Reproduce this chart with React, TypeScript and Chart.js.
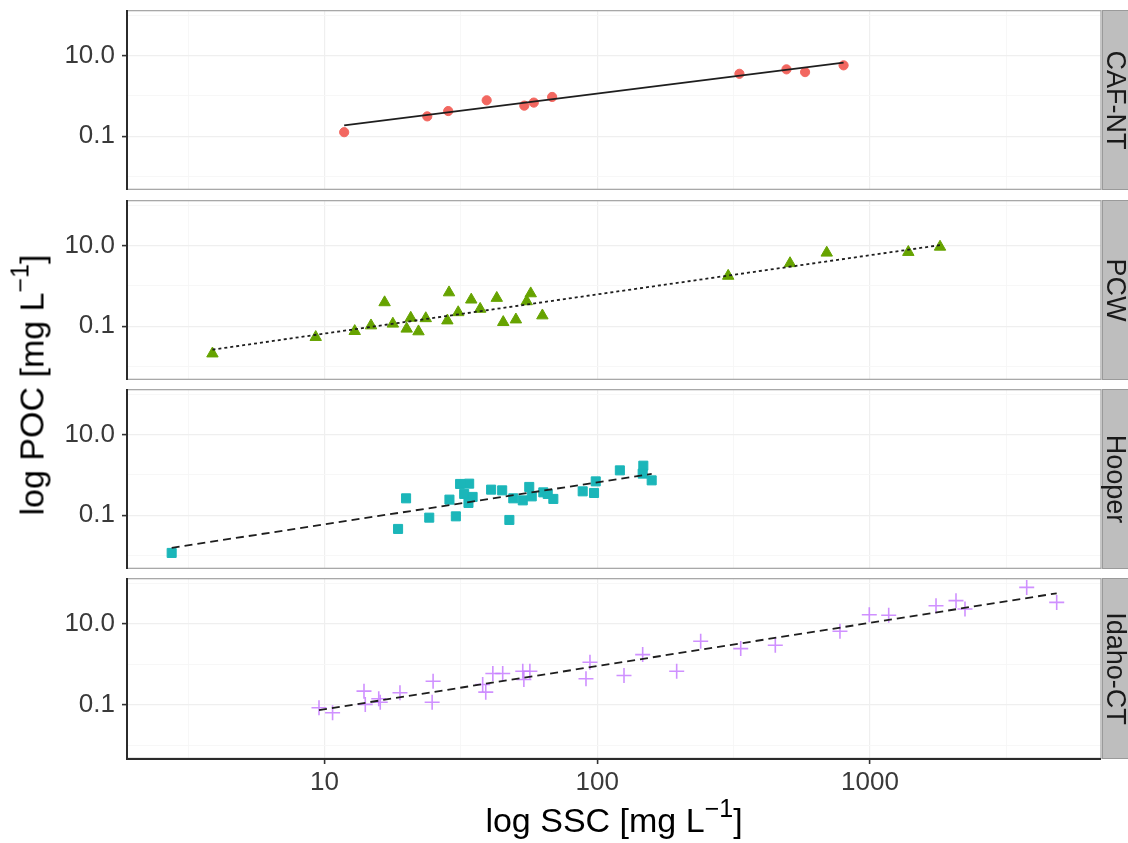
import React, { useEffect, useRef } from 'react';
import { Chart, registerables } from 'chart.js';

Chart.register(...registerables);

const FONT = '"Liberation Sans", Arial, Helvetica, sans-serif';

// ---------- data ----------
const facetNames = ['CAF-NT', 'PCW', 'Hooper', 'Idaho-CT'];

const cafSSC = [11.8, 23.8, 28.4, 39.3, 54.0, 58.5, 68.3, 332, 494, 578, 800];
const cafPOC = [0.126, 0.311, 0.422, 0.78, 0.575, 0.684, 0.944, 3.55, 4.57, 3.91, 5.75];
const cafFitSSC = [11.8, 800];
const cafFitPOC = [0.185, 6.7];

const pcwSSC = [3.88, 9.28, 12.9, 14.8, 16.6, 17.8, 20.0, 20.7, 22.1, 23.5, 28.2, 28.6, 30.9, 34.5, 37.2, 42.8, 45.2, 50.3, 55.1, 57.0, 62.9, 302, 509, 694, 1382, 1806];
const pcwPOC = [0.0209, 0.0536, 0.0753, 0.104, 0.39, 0.115, 0.0863, 0.161, 0.074, 0.157, 0.138, 0.687, 0.221, 0.455, 0.268, 0.501, 0.126, 0.146, 0.413, 0.65, 0.184, 1.77, 3.64, 6.65, 6.92, 9.34];
const pcwFitSSC = [3.88, 1806];
const pcwFitPOC = [0.0262, 10.3];

const hooperSSC = [2.75, 18.6, 19.9, 24.2, 28.7, 30.3, 31.4, 33.9, 32.5, 34.9, 33.7, 40.8, 44.8, 47.6, 49.2, 53.3, 56.3, 57.5, 63.4, 65.8, 69.0, 88.4, 97.3, 98.7, 121, 147.5, 146.7, 158.3];
const hooperPOC = [0.0116, 0.0457, 0.263, 0.0871, 0.244, 0.0939, 0.598, 0.608, 0.338, 0.285, 0.202, 0.432, 0.415, 0.0764, 0.263, 0.234, 0.504, 0.294, 0.37, 0.338, 0.254, 0.392, 0.357, 0.693, 1.3, 1.7, 1.08, 0.734];
const hooperFitSSC = [2.75, 158.3];
const hooperFitPOC = [0.0155, 1.06];

const idahoSSC = [9.54, 10.7, 13.95, 14.1, 15.8, 16.0, 18.9, 25.0, 24.8, 38.0, 39.0, 41.4, 45.0, 53.3, 56.6, 53.8, 90.9, 94.0, 125.3, 146.7, 195.5, 239.4, 335.7, 449.5, 776, 994, 1171, 1746, 2067, 2230, 3755, 4837];
const idahoPOC = [0.0853, 0.0643, 0.219, 0.103, 0.142, 0.117, 0.2, 0.386, 0.117, 0.32, 0.207, 0.597, 0.597, 0.68, 0.68, 0.425, 0.442, 1.13, 0.533, 1.75, 0.68, 3.73, 2.46, 2.97, 6.57, 16.9, 16.3, 28.2, 37.5, 23.4, 79.7, 34.0];
const idahoFitSSC = [9.54, 4837];
const idahoFitPOC = [0.0745, 57];

const xMajorTicks = [10, 100, 1000];
const xMajorLabels = ['10', '100', '1000'];
const xMinorTicks = [3.162, 31.62, 316.2, 3162];
const yMajorTicks = [0.1, 10];
const yMajorLabels = ['0.1', '10.0'];
const yMinorTicks = [0.01, 1, 100];

const X_MIN = 1.886;
const X_MAX = 7031;
const Y_MIN = 0.00463;
const Y_MAX = 136;

// ---------- styles ----------
const pointColors = ['#F26760', '#66A300', '#1BB6B9', 'rgba(199,124,255,0.85)'];
const pointStyles = ['circle', 'triangle', 'rect', 'cross'];
const pointRadii = [4.6, 6.6, 6.4, 7.5];
const pointBorderWidths = [1, 1, 1, 1.6];
const fitDashes: number[][] = [[], [3, 3], [8, 5], [8, 5]];

// ---------- layout ----------
const W = 1128;
const PANEL_LEFT = 127;
const RIGHT_PAD = 27;
const canvasTops = [10, 200, 389, 578];
const canvasHeights = [180, 180, 180, 265];
const bottomAxisHeight = 84;

const facets = [
  { name: facetNames[0], x: cafSSC, y: cafPOC, fx: cafFitSSC, fy: cafFitPOC },
  { name: facetNames[1], x: pcwSSC, y: pcwPOC, fx: pcwFitSSC, fy: pcwFitPOC },
  { name: facetNames[2], x: hooperSSC, y: hooperPOC, fx: hooperFitSSC, fy: hooperFitPOC },
  { name: facetNames[3], x: idahoSSC, y: idahoPOC, fx: idahoFitSSC, fy: idahoFitPOC },
];

const facetPlugin = {
  id: 'facet',
  afterDraw(chart: any, _args: any, opts: any) {
    const { ctx, chartArea: a } = chart;
    ctx.save();
    // panel border
    ctx.strokeStyle = '#A8A8A8';
    ctx.lineWidth = 1.3;
    ctx.strokeRect(a.left, a.top + 0.65, a.right - a.left, a.bottom - a.top - 1.3);
    // strip
    ctx.fillStyle = '#BEBEBE';
    ctx.fillRect(a.right + 1, a.top, chart.width - a.right, a.bottom - a.top);
    ctx.strokeStyle = '#9A9A9A';
    ctx.lineWidth = 1;
    ctx.strokeRect(a.right + 1.5, a.top + 0.5, chart.width, a.bottom - a.top - 1);
    // axis lines
    ctx.strokeStyle = '#2B2B2B';
    ctx.lineWidth = 2;
    ctx.beginPath();
    ctx.moveTo(a.left, a.top);
    ctx.lineTo(a.left, a.bottom + (opts.bottom ? 1 : 0));
    if (opts.bottom) {
      ctx.moveTo(a.left - 1, a.bottom);
      ctx.lineTo(a.right, a.bottom);
    }
    ctx.stroke();
    // strip text
    ctx.fillStyle = '#1A1A1A';
    ctx.font = '27px ' + FONT;
    ctx.textAlign = 'center';
    ctx.textBaseline = 'alphabetic';
    ctx.translate(a.right + 6, (a.top + a.bottom) / 2);
    ctx.rotate(Math.PI / 2);
    ctx.fillText(opts.label, 0, 0);
    ctx.restore();
  },
};

function makeConfig(i: number): any {
  const f = facets[i];
  const isBottom = i === facets.length - 1;
  const xTickVals = [...xMinorTicks, ...xMajorTicks].sort((a, b) => a - b);
  const yTickVals = [...yMinorTicks, ...yMajorTicks].sort((a, b) => a - b);
  const isXMajor = (v: number) => xMajorTicks.indexOf(v) >= 0;
  const isYMajor = (v: number) => yMajorTicks.indexOf(v) >= 0;
  return {
    type: 'scatter',
    data: {
      datasets: [
        {
          data: f.fx.map((x, k) => ({ x, y: f.fy[k] })),
          showLine: true,
          pointRadius: 0,
          borderColor: '#1E1E1E',
          borderWidth: 1.8,
          borderDash: fitDashes[i],
          fill: false,
        },
        {
          data: f.x.map((x, k) => ({ x, y: f.y[k] })),
          showLine: false,
          pointStyle: pointStyles[i],
          pointRadius: pointRadii[i],
          backgroundColor: pointColors[i],
          borderColor: pointColors[i],
          borderWidth: pointBorderWidths[i],
        },
      ],
    },
    options: {
      animation: false,
      responsive: false,
      events: [],
      layout: { autoPadding: false, padding: { left: 0, right: RIGHT_PAD, top: 0, bottom: 0 } },
      plugins: {
        legend: { display: false },
        tooltip: { enabled: false },
        facet: { label: f.name, bottom: isBottom },
      },
      scales: {
        x: {
          type: 'logarithmic',
          min: X_MIN,
          max: X_MAX,
          afterBuildTicks: (s: any) => {
            s.ticks = xTickVals.map((v) => ({ value: v, major: false }));
          },
          afterFit: (s: any) => {
            s.height = isBottom ? bottomAxisHeight : 0;
            s.paddingLeft = 0;
            s.paddingRight = 0;
            s.paddingTop = 0;
            s.paddingBottom = 0;
          },
          ticks: {
            display: isBottom,
            autoSkip: false,
            maxRotation: 0,
            minRotation: 0,
            padding: 3.5,
            color: '#3A3A3A',
            font: { family: FONT, size: 26 },
            callback: (v: number) => {
              const k = xMajorTicks.indexOf(v);
              return k >= 0 ? xMajorLabels[k] : '';
            },
          },
          grid: {
            color: (c: any) => (c.tick && isXMajor(c.tick.value) ? '#EFEFEF' : '#F6F6F6'),
            lineWidth: (c: any) => (c.tick && isXMajor(c.tick.value) ? 1.2 : 0.9),
            drawTicks: isBottom,
            tickLength: 5,
            tickWidth: 1.6,
            tickColor: (c: any) => (c.tick && isXMajor(c.tick.value) ? '#333333' : 'rgba(0,0,0,0)'),
          },
          border: { display: false },
        },
        y: {
          type: 'logarithmic',
          position: 'left',
          min: Y_MIN,
          max: Y_MAX,
          afterBuildTicks: (s: any) => {
            s.ticks = yTickVals.map((v) => ({ value: v, major: false }));
          },
          afterFit: (s: any) => {
            s.width = PANEL_LEFT;
            s.paddingLeft = 0;
            s.paddingRight = 0;
            s.paddingTop = 0;
            s.paddingBottom = 0;
          },
          ticks: {
            autoSkip: false,
            padding: 7,
            color: '#3A3A3A',
            font: { family: FONT, size: 26 },
            callback: (v: number) => {
              const k = yMajorTicks.indexOf(v);
              return k >= 0 ? yMajorLabels[k] : '';
            },
          },
          grid: {
            color: (c: any) => (c.tick && isYMajor(c.tick.value) ? '#EFEFEF' : '#F6F6F6'),
            lineWidth: (c: any) => (c.tick && isYMajor(c.tick.value) ? 1.2 : 0.9),
            drawTicks: true,
            tickLength: 5,
            tickWidth: 1.6,
            tickColor: (c: any) => (c.tick && isYMajor(c.tick.value) ? '#333333' : 'rgba(0,0,0,0)'),
          },
          border: { display: false },
        },
      },
    },
    plugins: [facetPlugin],
  };
}

const supStyle: React.CSSProperties = {
  fontSize: '25px',
  position: 'relative',
  top: '-15px',
};

export default function App() {
  const r0 = useRef<HTMLCanvasElement>(null);
  const r1 = useRef<HTMLCanvasElement>(null);
  const r2 = useRef<HTMLCanvasElement>(null);
  const r3 = useRef<HTMLCanvasElement>(null);
  const refs = [r0, r1, r2, r3];

  useEffect(() => {
    const charts = refs.map((r, i) => new Chart(r.current as HTMLCanvasElement, makeConfig(i)));
    return () => charts.forEach((c) => c.destroy());
  }, []);

  return (
    <div
      style={{
        position: 'fixed',
        left: 0,
        top: 0,
        width: W,
        height: 843,
        background: '#fff',
        overflow: 'hidden',
        fontFamily: FONT,
        color: '#000',
      }}
    >
      {facets.map((f, i) => (
        <canvas
          key={f.name}
          ref={refs[i]}
          width={W}
          height={canvasHeights[i]}
          style={{ position: 'absolute', left: 0, top: canvasTops[i], width: W, height: canvasHeights[i] }}
        />
      ))}
      <div
        style={{
          position: 'absolute',
          left: 32.5,
          top: 385,
          transform: 'translate(-50%, -50%) rotate(-90deg)',
          whiteSpace: 'nowrap',
          fontSize: '34px',
          lineHeight: '34px',
        }}
      >
        log POC [mg L<span style={supStyle}>−1</span>]
      </div>
      <div
        style={{
          position: 'absolute',
          left: 614,
          top: 821,
          transform: 'translate(-50%, -50%)',
          whiteSpace: 'nowrap',
          fontSize: '34px',
          lineHeight: '34px',
        }}
      >
        log SSC [mg L<span style={supStyle}>−1</span>]
      </div>
    </div>
  );
}
